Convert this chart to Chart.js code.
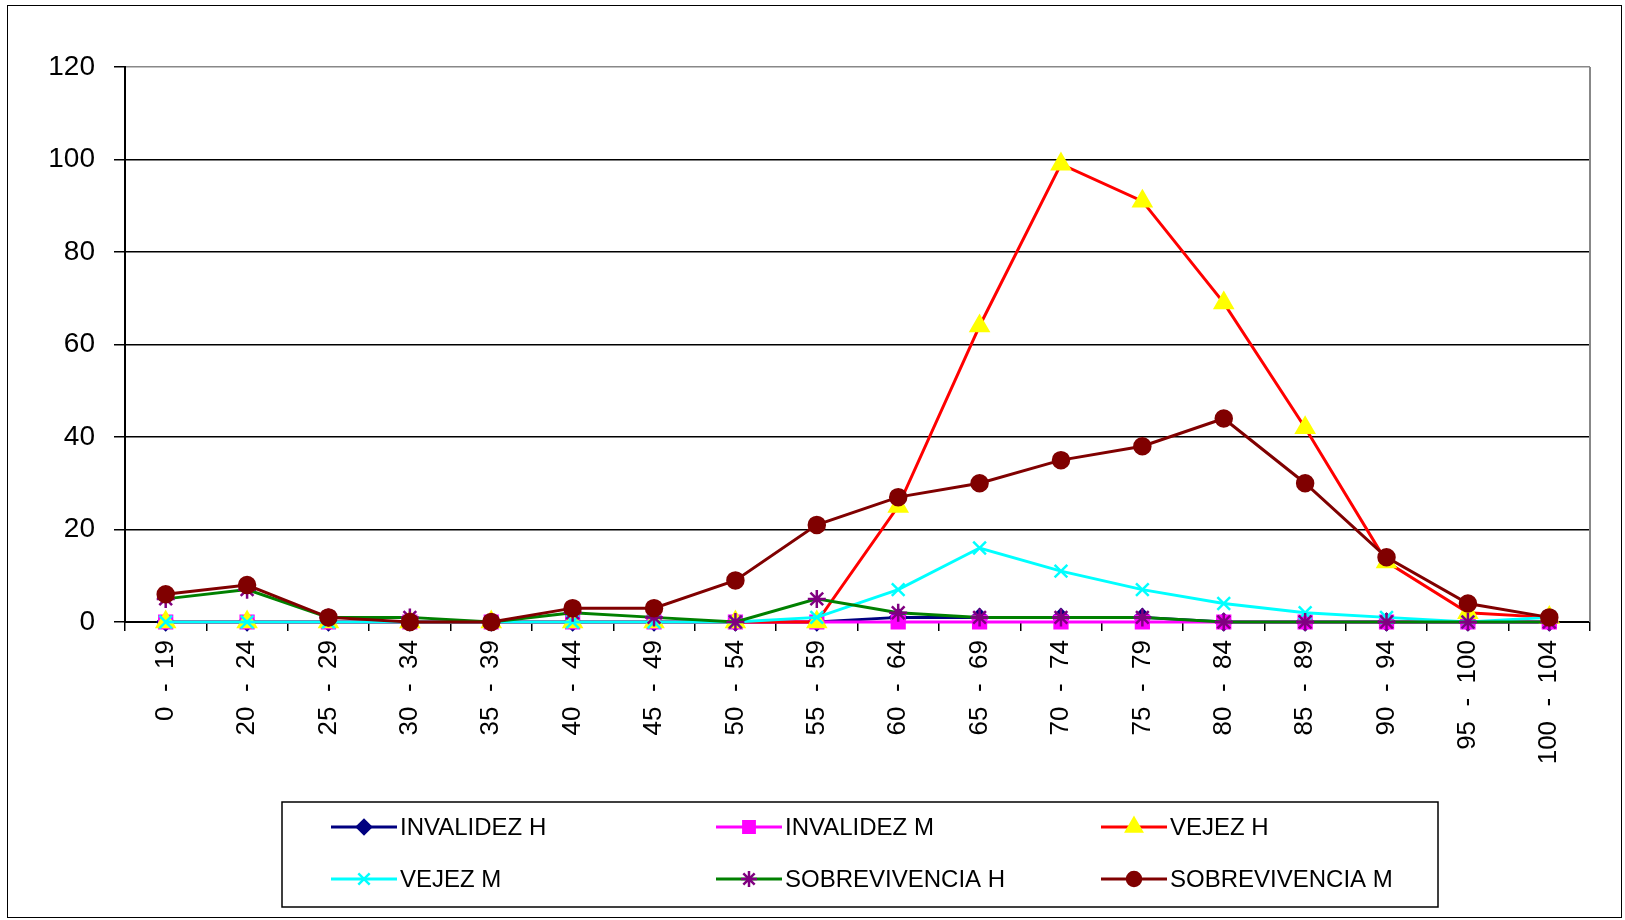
<!DOCTYPE html>
<html>
<head>
<meta charset="utf-8">
<script src="https://cdn.jsdelivr.net/npm/chart.js@4.4.0/dist/chart.umd.min.js"></script>
<style>
  body { margin: 0; background: #fff; }
  #wrap { position: relative; width: 1625px; height: 920px; }
  #frame { position: absolute; left: 7px; top: 5px; width: 1613px; height: 911px;
           border: 1.5px solid #000; pointer-events: none; }
</style>
</head>
<body>
<div id="wrap">
  <canvas id="chart" width="1625" height="920"></canvas>
  <div id="frame"></div>
</div>
<script>
// age groups (wide gaps round the dash, as in the original sheet)
const ageGroups = ["0  -  19", "20  -  24", "25  -  29", "30  -  34", "35  -  39", "40  -  44", "45  -  49",
  "50  -  54", "55  -  59", "60  -  64", "65  -  69", "70  -  74", "75  -  79", "80  -  84", "85  -  89",
  "90  -  94", "95  -  100", "100  -  104"];

const invalidezH      = [0, 0, 0, 0, 0, 0, 0, 0, 0, 1, 1, 1, 1, 0, 0, 0, 0, 0];
const invalidezM      = [0, 0, 0, 0, 0, 0, 0, 0, 0, 0, 0, 0, 0, 0, 0, 0, 0, 0];
const vejezH          = [0, 0, 0, 0, 0, 0, 0, 0, 0, 25, 64, 99, 91, 69, 42, 13, 2, 1];
const vejezM          = [0, 0, 0, 0, 0, 0, 0, 0, 1, 7, 16, 11, 7, 4, 2, 1, 0, 1];
const sobrevivenciaH  = [5, 7, 1, 1, 0, 2, 1, 0, 5, 2, 1, 1, 1, 0, 0, 0, 0, 0];
const sobrevivenciaM  = [6, 8, 1, 0, 0, 3, 3, 9, 21, 27, 30, 35, 38, 44, 30, 14, 4, 1];

const yTicks = [0, 20, 40, 60, 80, 100, 120];

const series = [
  { label: "INVALIDEZ H", data: invalidezH, line: "#000080", style: "rectRot", fill: "#000080", stroke: "#000080", r: 8 },
  { label: "INVALIDEZ M", data: invalidezM, line: "#FF00FF", style: "rect", fill: "#FF00FF", stroke: "#FF00FF", r: 9 },
  { label: "VEJEZ H", data: vejezH, line: "#FF0000", style: "triangle", fill: "#FFFF00", stroke: "#FFFF00", r: 10 },
  { label: "VEJEZ M", data: vejezM, line: "#00FFFF", style: "crossRot", fill: "#00FFFF", stroke: "#00FFFF", r: 9 },
  { label: "SOBREVIVENCIA H", data: sobrevivenciaH, line: "#008000", style: "star", fill: "#800080", stroke: "#800080", r: 9 },
  { label: "SOBREVIVENCIA M", data: sobrevivenciaM, line: "#800000", style: "circle", fill: "#800000", stroke: "#800000", r: 8 }
];

const datasets = series.map((s, i) => ({
  label: s.label,
  data: s.data,
  borderColor: s.line,
  borderWidth: 3,
  pointStyle: s.style,
  pointRadius: s.r,
  pointBackgroundColor: s.fill,
  pointBorderColor: s.stroke,
  pointBorderWidth: 2.5,
  tension: 0,
  clip: false,
  order: series.length - i
}));

// excel-like legend box under the plot
const boxLegend = {
  id: "boxLegend",
  afterDraw(chart) {
    const ctx = chart.ctx;
    ctx.save();
    ctx.strokeStyle = "#000";
    ctx.lineWidth = 1.5;
    ctx.strokeRect(282, 802, 1156, 105);
    const cols = [331, 716, 1101];
    const rows = [827, 879];
    ctx.font = "24px 'Liberation Sans', Arial, sans-serif";
    ctx.textBaseline = "middle";
    ctx.fillStyle = "#000";
    chart.data.datasets.forEach((ds, i) => {
      const x = cols[i % 3], y = rows[Math.floor(i / 3)];
      ctx.strokeStyle = ds.borderColor;
      ctx.lineWidth = 3;
      ctx.beginPath();
      ctx.moveTo(x, y);
      ctx.lineTo(x + 66, y);
      ctx.stroke();
      ctx.fillStyle = ds.pointBackgroundColor;
      ctx.strokeStyle = ds.pointBorderColor;
      ctx.lineWidth = 2.5;
      Chart.helpers.drawPoint(ctx, { pointStyle: ds.pointStyle, radius: ds.pointRadius - 1, rotation: 0, borderWidth: 2.5 }, x + 33, y);
      ctx.fillStyle = "#000";
      ctx.fillText(ds.label, x + 69, y + 1);
    });
    // right border of plot area
    const a = chart.chartArea;
    ctx.strokeStyle = "#888";
    ctx.lineWidth = 2;
    ctx.beginPath();
    ctx.moveTo(a.right, a.top);
    ctx.lineTo(a.right, a.bottom);
    ctx.stroke();
    ctx.restore();
  }
};

new Chart(document.getElementById("chart"), {
  type: "line",
  data: { labels: ageGroups, datasets: datasets },
  options: {
    responsive: false,
    animation: false,
    layout: { padding: { left: 0, top: 67, right: 35, bottom: 148 } },
    plugins: { legend: { display: false }, tooltip: { enabled: false } },
    scales: {
      x: {
        offset: true,
        grid: { offset: true, drawOnChartArea: false, drawTicks: true, tickLength: 9, color: "#000", lineWidth: 1.5 },
        border: { color: "#000", width: 2 },
        ticks: {
          minRotation: 90, maxRotation: 90, autoSkip: false, padding: 9,
          color: "#000", font: { family: "'Liberation Sans', Arial, sans-serif", size: 26 }
        },
        afterFit(scale) { scale.height = 150; }
      },
      y: {
        min: 0, max: 120,
        afterBuildTicks(scale) { scale.ticks = yTicks.map(v => ({ value: v })); },
        grid: {
          color: c => (c.tick && c.tick.value === 120 ? "#888" : "#000"),
          tickColor: "#000",
          lineWidth: 1.5, tickLength: 11
        },
        border: { color: "#000", width: 2 },
        ticks: {
          padding: 19, color: "#000",
          font: { family: "'Liberation Sans', Arial, sans-serif", size: 28 }
        },
        afterFit(scale) { scale.width = 125; }
      }
    }
  },
  plugins: [boxLegend]
});
</script>
</body>
</html>
